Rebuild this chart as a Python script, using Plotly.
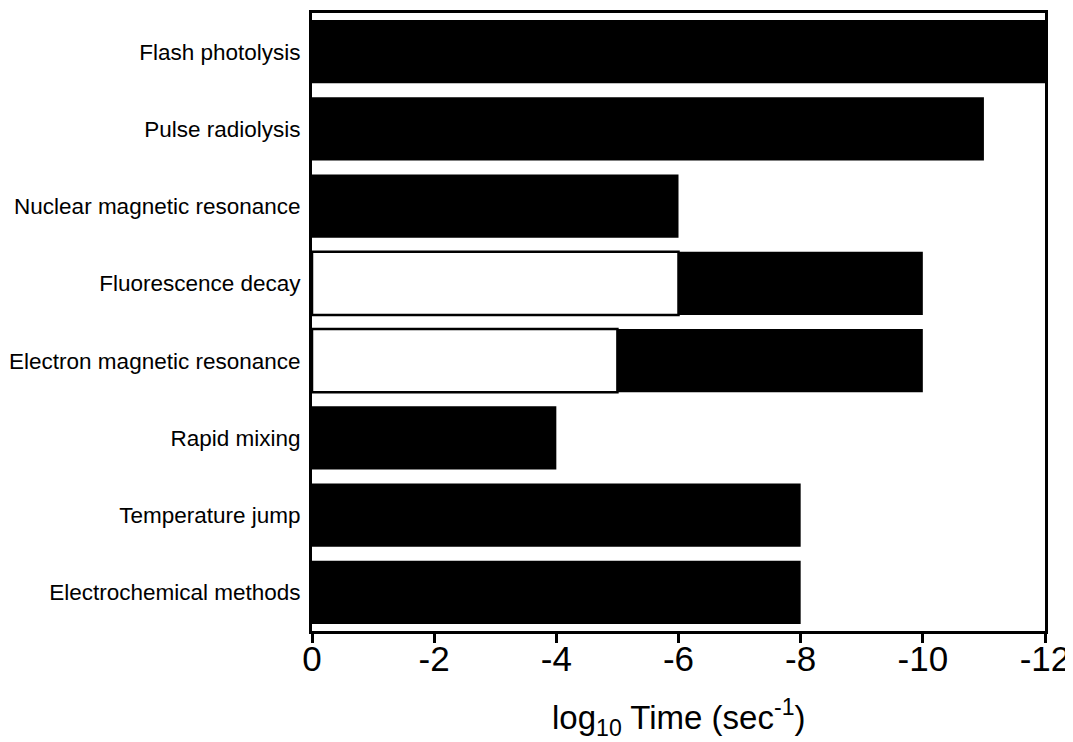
import plotly.graph_objects as go

# Data
methods = [
    "Flash photolysis",
    "Pulse radiolysis",
    "Nuclear magnetic resonance",
    "Fluorescence decay",
    "Electron magnetic resonance",
    "Rapid mixing",
    "Temperature jump",
    "Electrochemical methods",
]
# end of the accessible range (black bar from 0 to this value)
range_end = [-12, -11, -6, -10, -10, -4, -8, -8]
# open (white) part of the bar, starting at 0 (None = no open part)
open_end = [None, None, None, -6, -5, None, None, None]

x_tickvals = [0, -2, -4, -6, -8, -10, -12]
x_ticktext = ["0", "-2", "-4", "-6", "-8", "-10", "-12"]
x_title = "log<sub>10</sub> Time (sec<sup>-1</sup>)"

fig = go.Figure()
fig.add_trace(go.Bar(
    y=methods, x=range_end, orientation="h", width=0.82,
    marker=dict(color="black", line=dict(width=0)),
    hoverinfo="skip",
))
fig.add_trace(go.Bar(
    y=methods, x=open_end, orientation="h", width=0.82,
    marker=dict(color="white", line=dict(color="black", width=2.5)),
    hoverinfo="skip",
))

fig.add_annotation(
    text=x_title, xref="paper", yref="paper", x=0.5, y=0,
    xanchor="center", yanchor="top", yshift=-61, showarrow=False,
    font=dict(size=33, color="black"),
)

fig.update_layout(
    width=1065, height=734,
    barmode="overlay",
    showlegend=False,
    paper_bgcolor="white",
    plot_bgcolor="white",
    font=dict(family="Liberation Sans, Arial, sans-serif", color="black"),
    margin=dict(l=304, r=28, t=5, b=111, autoexpand=False),
    xaxis=dict(
        range=[0, -12],
        tickvals=x_tickvals,
        ticktext=x_ticktext,
        ticks="outside", ticklen=9, tickwidth=2.5, tickcolor="black",
        showline=True, linecolor="black", linewidth=3, mirror=True,
        showgrid=False, zeroline=False, automargin=False,
        tickfont=dict(size=35),
        ticklabelstandoff=-14,
    ),
    yaxis=dict(
        categoryorder="array", categoryarray=methods,
        range=[7.5, -0.5],
        ticks="", showline=True, linecolor="black", linewidth=3, mirror=True,
        showgrid=False, zeroline=False, automargin=False,
        tickfont=dict(size=22.5),
        ticklabelstandoff=4,
    ),
)

fig.write_html("out.html")
